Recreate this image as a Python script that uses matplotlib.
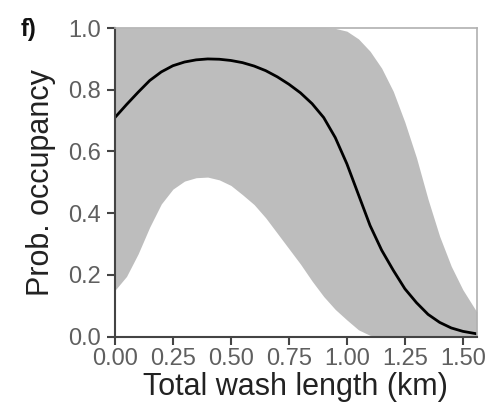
import numpy as np
import matplotlib
matplotlib.use("Agg")
import matplotlib.pyplot as plt

plt.rcParams['font.family'] = ['Liberation Sans', 'DejaVu Sans']

# values
length_km = [0.00, 0.05, 0.10, 0.15, 0.20, 0.25, 0.30, 0.35, 0.40, 0.45, 0.50,
             0.55, 0.60, 0.65, 0.70, 0.75, 0.80, 0.85, 0.90, 0.95, 1.00, 1.05,
             1.10, 1.15, 1.20, 1.25, 1.30, 1.35, 1.40, 1.45, 1.50, 1.56]
occ_mean = [0.710, 0.752, 0.792, 0.830, 0.858, 0.878, 0.890, 0.897, 0.900, 0.899, 0.895,
            0.888, 0.877, 0.862, 0.842, 0.818, 0.790, 0.755, 0.710, 0.645, 0.560, 0.460,
            0.360, 0.280, 0.215, 0.155, 0.110, 0.072, 0.046, 0.028, 0.017, 0.009]
occ_lower = [0.150, 0.195, 0.268, 0.355, 0.430, 0.478, 0.504, 0.515, 0.517, 0.508, 0.490,
             0.460, 0.428, 0.385, 0.335, 0.285, 0.235, 0.180, 0.130, 0.088, 0.054, 0.022,
             0.004, 0.0, 0.0, 0.0, 0.0, 0.0, 0.0, 0.0, 0.0, 0.0]
occ_upper = [1.0, 1.0, 1.0, 1.0, 1.0, 1.0, 1.0, 1.0, 1.0, 1.0, 1.0,
             1.0, 1.0, 1.0, 1.0, 1.0, 1.0, 1.0, 1.0, 0.999, 0.990, 0.965,
             0.925, 0.870, 0.795, 0.695, 0.580, 0.445, 0.325, 0.228, 0.152, 0.080]

xticks = [0.00, 0.25, 0.50, 0.75, 1.00, 1.25, 1.50]
yticks = [0.0, 0.2, 0.4, 0.6, 0.8, 1.0]

fig = plt.figure(figsize=(4.89, 4.13), dpi=100)
ax = fig.add_axes([0.235, 0.185, 0.740, 0.747])

ax.fill_between(length_km, occ_lower, occ_upper, color='#bdbdbd', linewidth=0)
ax.plot(length_km, occ_mean, color='black', linewidth=2)

ax.set_xlim(0, 1.56)
ax.set_ylim(0, 1.0)
ax.set_xticks(xticks)
ax.set_xticklabels([f"{t:.2f}" for t in xticks])
ax.set_yticks(yticks)
ax.set_yticklabels([f"{t:.1f}" for t in yticks])
ax.tick_params(colors='#444444', labelcolor='#5f5f5f', labelsize=17, length=6, width=1.5, pad=2)
ax.tick_params(axis='y', pad=4)

for s in ['left', 'bottom']:
    ax.spines[s].set_color('#444444')
    ax.spines[s].set_linewidth(1.5)
for s in ['top', 'right']:
    ax.spines[s].set_color('#b0b0b0')
    ax.spines[s].set_linewidth(1.2)

ax.set_xlabel("Total wash length (km)", fontsize=22, color='#222222', labelpad=2)
ax.set_ylabel("Prob. occupancy", fontsize=22, color='#222222', labelpad=9)
fig.text(0.042, 0.912, "f)", fontsize=17, fontweight='bold', color='#111111')

fig.savefig("out.png", dpi=100)
